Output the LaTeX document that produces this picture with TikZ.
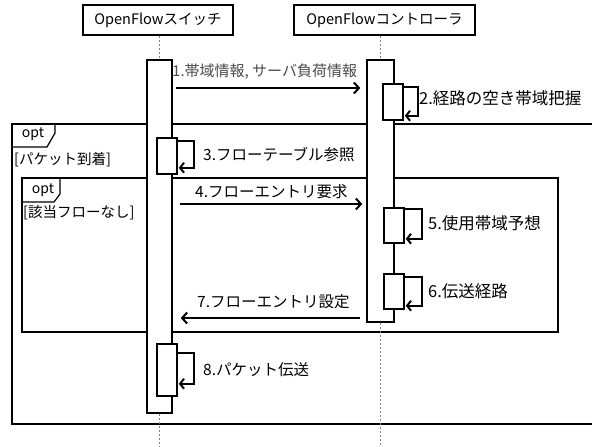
\documentclass[tikz,border=0pt]{standalone}
\usepackage{fontspec}
\setmainfont{Noto Sans CJK JP}
\usetikzlibrary{arrows.meta}
\definecolor{msggray}{HTML}{4A4A4A}
\begin{document}
\begin{tikzpicture}[x=1pt,y=-1pt,
  head/.style={draw,line width=1.6pt,minimum height=30pt,inner sep=0pt,font=\fontsize{14.5}{16}\selectfont},
  life/.style={draw=gray,line width=0.8pt,dash pattern=on 2pt off 2pt},
  bar/.style={draw,fill=white,line width=1.5pt,inner sep=0pt},
  frm/.style={line width=1.6pt},
  ifrm/.style={line width=1.4pt},
  tab/.style={line width=1.2pt},
  msg/.style={line width=2pt,-{Straight Barb[length=5pt,width=11pt,line width=2pt]}},
  self/.style={line width=2pt,-{Straight Barb[length=4pt,width=10pt,line width=2pt]}},
  lblA/.style={anchor=west,inner sep=0pt,font=\fontsize{16.5}{18}\selectfont},
  lblB/.style={anchor=west,inner sep=0pt,font=\fontsize{15.5}{18}\selectfont},
  lblG/.style={anchor=west,inner sep=0pt,text=msggray,font=\fontsize{15}{17}\selectfont},
  optt/.style={inner sep=0pt,font=\fontsize{14}{15}\selectfont},
  guard/.style={anchor=west,inner sep=0pt,font=\fontsize{14.5}{17}\selectfont}
]
\useasboundingbox (0,0) rectangle (592,447);
\fill[white] (0,0) rectangle (592,447);

% frames
\draw[frm] (592,124) -- (12,124) -- (12,424) -- (592,424);
\draw[tab] (55,124) -- (55,133) -- (47,147) -- (12,147);
\node[optt] (opt1) at (33,134) {opt};
\node[guard] (g1) at (14,160) {[パケット到着]};

\draw[ifrm] (22,178) rectangle (558,332);
\draw[tab] (60,178) -- (60,194) -- (54,202) -- (22,202);
\node[optt] (opt2) at (43,190) {opt};
\node[guard] (g2) at (23,213) {[該当フローなし]};

% heads
\node[head,minimum width=150pt] (sw) at (158,20) {OpenFlowスイッチ};
\node[head,minimum width=181pt] (ct) at (384.5,20) {OpenFlowコントローラ};

% bars
\node[bar,minimum width=25pt,minimum height=353pt] (swbar) at (159.5,236.5) {};
\node[bar,minimum width=27pt,minimum height=262pt] (ctbar) at (380.5,191) {};
\coordinate (bot) at (0,447);

% lifelines
\draw[life] (swbar.north |- sw.south) -- (swbar.north);
\draw[life] (swbar.south) -- (swbar.south |- bot);
\draw[life] (ctbar.north |- ct.south) -- (ctbar.north);
\draw[life] (ctbar.south) -- (ctbar.south |- bot);

\node[bar,minimum width=20pt,minimum height=36pt] (b2) at (393,102) {};
\node[bar,minimum width=20pt,minimum height=36pt] (b3) at (167,156) {};
\node[bar,minimum width=20pt,minimum height=35pt] (b5) at (394,225.5) {};
\node[bar,minimum width=20pt,minimum height=35pt] (b6) at (394,291.5) {};
\node[bar,minimum width=20pt,minimum height=52pt] (b8) at (167,370) {};

% messages
\coordinate (y1) at (0,88);
\coordinate (y4) at (0,204);
\coordinate (y7) at (0,318);
\draw[msg] ([xshift=3pt]swbar.east |- y1) -- ([xshift=-6pt]ctbar.west |- y1);
\node[lblG] (t1) at (172,72) {1.帯域情報, サーバ負荷情報};
\draw[msg] ([xshift=7pt]swbar.east |- y4) -- ([xshift=-4pt]ctbar.west |- y4);
\node[lblB] (t4) at (195,192) {4.フローエントリ要求};
\draw[msg] ([xshift=-6pt]ctbar.west |- y7) -- ([xshift=8pt]swbar.east |- y7);
\node[lblB] (t7) at (197,302) {7.フローエントリ設定};

% self messages
\draw[self] ([yshift=-4pt]b2.north east) -- ++(14,0) |- ([xshift=1pt,yshift=5pt]b2.south east);
\node[lblA] (t2) at (419,98) {2.経路の空き帯域把握};
\draw[self] ([yshift=-4pt]b3.north east) -- ++(16,0) |- ([xshift=1pt,yshift=7pt]b3.south east);
\node[lblB] (t3) at (203,155) {3.フローテーブル参照};
\draw[self] ([yshift=-2pt]b5.north east) -- ++(17,0) |- ([xshift=1pt,yshift=5pt]b5.south east);
\node[lblA] (t5) at (428,223) {5.使用帯域予想};
\draw[self] ([yshift=-4pt]b6.north east) -- ++(17,0) |- ([xshift=1pt,yshift=4pt]b6.south east);
\node[lblA] (t6) at (428,291) {6.伝送経路};
\draw[self] ([yshift=-10pt]b8.north east) -- ++(16,0) |- ([xshift=1pt,yshift=13pt]b8.south east);
\node[lblB] (t8) at (203,370) {8.パケット伝送};
\end{tikzpicture}
\end{document}
